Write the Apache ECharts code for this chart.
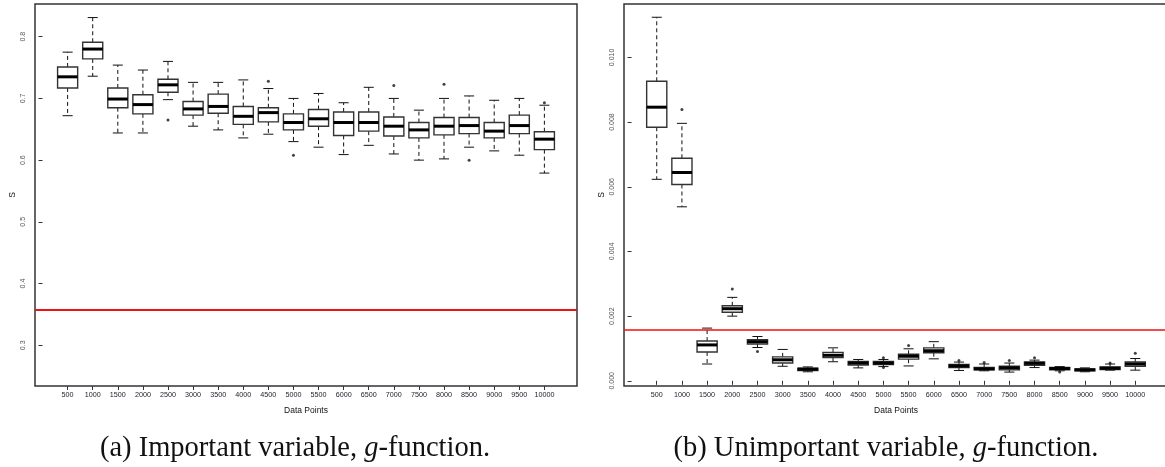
<!DOCTYPE html>
<html>
<head>
<meta charset="utf-8">
<script src="https://cdn.jsdelivr.net/npm/echarts@6/dist/echarts.min.js"></script>
<style>
  html, body { margin: 0; padding: 0; background: #fff; overflow: hidden; }
  #chart { width: 1170px; height: 467px; }
</style>
</head>
<body>
<div id="chart"></div>
<script>
// x categories (data points), shared by both panels
var xLabels = ['500','1000','1500','2000','2500','3000','3500','4000','4500','5000',
  '5500','6000','6500','7000','7500','8000','8500','9000','9500','10000'];

// (a) important variable: whisker low, Q1, median, Q3, whisker high
var lowA  = [0.672,0.736,0.644,0.644,0.698,0.655,0.649,0.636,0.642,0.630,0.621,0.609,0.624,0.610,0.600,0.602,0.621,0.615,0.608,0.579];
var q1A   = [0.717,0.764,0.685,0.675,0.710,0.673,0.676,0.658,0.662,0.649,0.655,0.640,0.647,0.639,0.636,0.641,0.643,0.636,0.643,0.617];
var medA  = [0.735,0.780,0.699,0.690,0.722,0.683,0.687,0.671,0.677,0.661,0.667,0.661,0.661,0.655,0.649,0.655,0.656,0.647,0.656,0.634];
var q3A   = [0.751,0.791,0.717,0.706,0.731,0.695,0.707,0.687,0.685,0.675,0.682,0.678,0.678,0.670,0.661,0.669,0.669,0.661,0.673,0.646];
var highA = [0.775,0.831,0.754,0.746,0.760,0.726,0.726,0.730,0.716,0.700,0.708,0.693,0.718,0.700,0.681,0.700,0.704,0.697,0.700,0.689];
var outA  = [[5,0.665],[9,0.728],[10,0.608],[14,0.721],[16,0.723],[17,0.600],[20,0.693]];
var refA  = 0.357;
var yTicksA = [0.3,0.4,0.5,0.6,0.7,0.8];

// (b) unimportant variable
var lowB  = [0.00623,0.00538,0.00052,0.00200,0.00103,0.00045,0.00028,0.00059,0.00040,0.00044,0.00046,0.00068,0.00032,0.00031,0.00027,0.00041,0.00031,0.00028,0.00033,0.00033];
var q1B   = [0.00784,0.00607,0.00089,0.00212,0.00114,0.00055,0.00032,0.00072,0.00049,0.00050,0.00067,0.00087,0.00041,0.00034,0.00034,0.00048,0.00034,0.00031,0.00035,0.00045];
var medB  = [0.00846,0.00644,0.00111,0.00223,0.00121,0.00065,0.00036,0.00079,0.00055,0.00055,0.00076,0.00093,0.00046,0.00037,0.00040,0.00054,0.00038,0.00034,0.00039,0.00052];
var q3B   = [0.00926,0.00688,0.00123,0.00232,0.00127,0.00074,0.00039,0.00088,0.00060,0.00060,0.00082,0.00102,0.00051,0.00041,0.00045,0.00058,0.00041,0.00037,0.00043,0.00058];
var highB = [0.01124,0.00796,0.00163,0.00258,0.00137,0.00097,0.00043,0.00102,0.00066,0.00066,0.00099,0.00121,0.00058,0.00052,0.00055,0.00064,0.00044,0.00040,0.00052,0.00069];
var outB  = [[2,0.00839],[4,0.00284],[5,0.00091],[10,0.00071],[10,0.00041],[11,0.00109],[13,0.00063],[14,0.00057],[15,0.00063],[16,0.00071],[17,0.00027],[19,0.00055],[20,0.00085]];
var refB  = 0.00159;
var yTicksB = [0,0.002,0.004,0.006,0.008,0.010];

var xPos = xLabels.map(function (l, i) { return i + 1; });

function boxRows(lo, q1, md, q3, hi) {
  return xPos.map(function (x, i) { return [x, lo[i], q1[i], md[i], q3[i], hi[i]]; });
}

function renderBox(params, api) {
  var x = api.value(0);
  var lo = api.coord([x, api.value(1)]);
  var q1 = api.coord([x, api.value(2)]);
  var md = api.coord([x, api.value(3)]);
  var q3 = api.coord([x, api.value(4)]);
  var hi = api.coord([x, api.value(5)]);
  var half = api.size([0.8, 0])[0] / 2;
  var cap = half / 2;
  var cx = md[0];
  var dash = { stroke: '#111', lineWidth: 1, lineDash: [4, 3] };
  var solid = { stroke: '#111', lineWidth: 1 };
  return {
    type: 'group',
    children: [
      { type: 'line', shape: { x1: cx, y1: q3[1], x2: cx, y2: hi[1] }, style: dash },
      { type: 'line', shape: { x1: cx, y1: q1[1], x2: cx, y2: lo[1] }, style: dash },
      { type: 'line', shape: { x1: cx - cap, y1: hi[1], x2: cx + cap, y2: hi[1] }, style: solid },
      { type: 'line', shape: { x1: cx - cap, y1: lo[1], x2: cx + cap, y2: lo[1] }, style: solid },
      { type: 'rect', shape: { x: cx - half, y: q3[1], width: half * 2, height: q1[1] - q3[1] },
        style: { fill: '#fff', stroke: '#333', lineWidth: 1.4 } },
      { type: 'line', shape: { x1: cx - half, y1: md[1], x2: cx + half, y2: md[1] },
        style: { stroke: '#000', lineWidth: 3 } }
    ]
  };
}

var font = 'Liberation Sans';

function xAxisFor(idx) {
  return {
    type: 'value', gridIndex: idx, min: -0.3, max: 21.3,
    name: 'Data Points', nameLocation: 'middle', nameGap: 20,
    nameTextStyle: { fontFamily: font, fontSize: 8.5, color: '#111' },
    axisLine: { show: false },
    axisTick: { show: true, customValues: xPos, length: 4, lineStyle: { color: '#333' } },
    axisLabel: { customValues: xPos, margin: 6, fontFamily: font, fontSize: 7.2, color: '#223',
      formatter: function (v) { return xLabels[Math.round(v) - 1]; } },
    splitLine: { show: false }
  };
}

function yAxisFor(idx, min, max, ticks, digits) {
  return {
    type: 'value', gridIndex: idx, min: min, max: max,
    name: 'S', nameLocation: 'middle', nameGap: 18, nameRotate: 90,
    nameTextStyle: { fontFamily: font, fontSize: 8.5, color: '#111' },
    axisLine: { show: false },
    axisTick: { show: true, customValues: ticks, length: 4, lineStyle: { color: '#333' } },
    axisLabel: { customValues: ticks, rotate: 90, margin: 8, fontFamily: font, fontSize: 7, color: '#555',
      formatter: function (v) { return v.toFixed(digits); } },
    splitLine: { show: false }
  };
}

function refLine(v, w) {
  return {
    silent: true, symbol: 'none', precision: 8, label: { show: false },
    lineStyle: { color: '#ee1111', width: w, type: 'solid' },
    data: [{ yAxis: v }]
  };
}

var chart = echarts.init(document.getElementById('chart'), null, { renderer: 'canvas' });

chart.setOption({
  animation: false,
  backgroundColor: '#fff',
  grid: [
    { left: 35, top: 4, width: 542, height: 382, show: true, borderColor: '#333', borderWidth: 1.5, backgroundColor: 'transparent' },
    { left: 624, top: 4, width: 544, height: 382, show: true, borderColor: '#333', borderWidth: 1.5, backgroundColor: 'transparent' }
  ],
  xAxis: [xAxisFor(0), xAxisFor(1)],
  yAxis: [
    yAxisFor(0, 0.234, 0.853, yTicksA, 1),
    yAxisFor(1, -0.00016, 0.01165, yTicksB, 3)
  ],
  graphic: [
    { type: 'text', x: 295, y: 449, style: {
      text: '(a) Important variable, {i|g}-function.',
      font: '28.5px "Liberation Serif"', fill: '#111', align: 'center', verticalAlign: 'middle',
      rich: { i: { fontStyle: 'italic', fontFamily: 'Liberation Serif', fontSize: 28.5 } } } },
    { type: 'text', x: 886, y: 449, style: {
      text: '(b) Unimportant variable, {i|g}-function.',
      font: '28.5px "Liberation Serif"', fill: '#111', align: 'center', verticalAlign: 'middle',
      rich: { i: { fontStyle: 'italic', fontFamily: 'Liberation Serif', fontSize: 28.5 } } } }
  ],
  series: [
    { type: 'custom', xAxisIndex: 0, yAxisIndex: 0, renderItem: renderBox,
      encode: { x: 0, y: [1, 2, 3, 4, 5] }, data: boxRows(lowA, q1A, medA, q3A, highA) },
    { type: 'scatter', xAxisIndex: 0, yAxisIndex: 0, symbol: 'circle', symbolSize: 3,
      itemStyle: { color: '#111' }, data: outA, markLine: refLine(refA, 2) },
    { type: 'custom', xAxisIndex: 1, yAxisIndex: 1, renderItem: renderBox,
      encode: { x: 0, y: [1, 2, 3, 4, 5] }, data: boxRows(lowB, q1B, medB, q3B, highB) },
    { type: 'scatter', xAxisIndex: 1, yAxisIndex: 1, symbol: 'circle', symbolSize: 3,
      itemStyle: { color: '#111' }, data: outB, markLine: refLine(refB, 1.6) }
  ]
});
</script>
</body>
</html>
